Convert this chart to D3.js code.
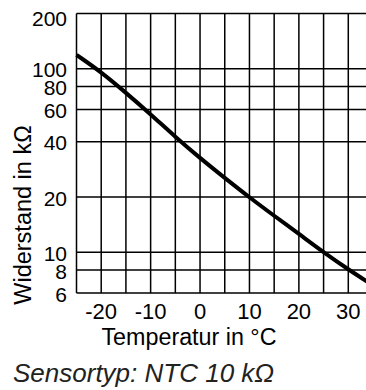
<!DOCTYPE html>
<html><head><meta charset="utf-8">
<script src="https://cdn.jsdelivr.net/npm/d3@7"></script>
<style>
html,body{margin:0;padding:0;background:#fff;}
svg{display:block;font-family:"Liberation Sans",Arial,sans-serif;}
</style></head>
<body>
<svg id="c" width="366" height="390"></svg>
<script>
const temps = [-25,-20,-15,-10,-5,0,5,10,15,20,25,30,35];
const resistance = [119,96,74,56.5,42.5,32.6,25.4,19.9,15.8,12.6,10,8.06,6.6];
const xGrid = [-25,-20,-15,-10,-5,0,5,10,15,20,25,30,35];
const xTickLabels = [-20,-10,0,10,20,30];
const yGrid = [6,8,10,20,40,60,80,100,200];
const yTickLabels = [6,8,10,20,40,60,80,100,200];
const xTitle = "Temperatur in °C";
const yTitle = "Widerstand in kΩ";
const caption = "Sensortyp: NTC 10 kΩ";

const svg = d3.select("#c");
const x = d3.scaleLinear().domain([-25,35]).range([76.5,373]);
const y = d3.scaleLog().domain([6,200]).range([293,13.5]);

const g = svg.append("g");
g.selectAll("line.v").data(xGrid).enter().append("line")
  .attr("x1",d=>x(d)).attr("x2",d=>x(d)).attr("y1",y(200)).attr("y2",y(6))
  .attr("stroke","#000").attr("stroke-width",1.5);
g.selectAll("line.h").data(yGrid).enter().append("line")
  .attr("x1",x(-25)).attr("x2",x(35)).attr("y1",d=>y(d)).attr("y2",d=>y(d))
  .attr("stroke","#000").attr("stroke-width",1.5);

const data = temps.map((t,i)=>({t, r: resistance[i]}));
svg.append("path").datum(data)
  .attr("d", d3.line().x(d=>x(d.t)).y(d=>y(d.r)).curve(d3.curveBasis))
  .attr("fill","none").attr("stroke","#000").attr("stroke-width",4);

svg.selectAll("text.yt").data(yTickLabels).enter().append("text")
  .attr("x",67).attr("y",d=>Math.max(y(d),17.5)+8.5)
  .attr("text-anchor","end").attr("font-size",21).attr("fill","#000")
  .text(d=>d);
svg.selectAll("text.xt").data(xTickLabels).enter().append("text")
  .attr("x",d=>x(d)).attr("y",319)
  .attr("text-anchor","middle").attr("font-size",22).attr("fill","#000")
  .text(d=>d);
svg.append("text").attr("x",189).attr("y",345).attr("text-anchor","middle")
  .attr("font-size",23.3).attr("fill","#000").text(xTitle);
svg.append("text").attr("transform","translate(31,215) rotate(-90)")
  .attr("text-anchor","middle").attr("font-size",23.5).attr("fill","#000").text(yTitle);
svg.append("text").attr("x",13).attr("y",381.5).attr("font-style","italic")
  .attr("font-size",26).attr("fill","#222").text(caption);
</script>
</body></html>
